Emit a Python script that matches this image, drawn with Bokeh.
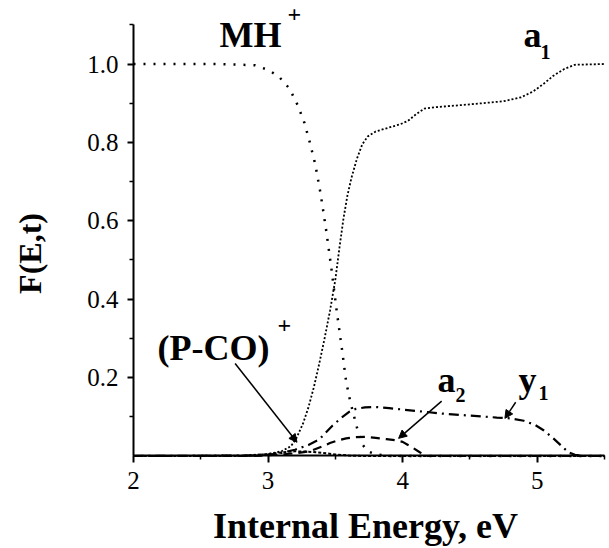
import math
from bokeh.plotting import figure
from bokeh.models import Label, Arrow, NormalHead, FixedTicker, PrintfTickFormatter, Range1d
from bokeh.embed import file_html
from bokeh.resources import INLINE

# ---- data ----
mh_x = [2.0, 2.6, 2.9, 3.0, 3.08, 3.16, 3.22, 3.27, 3.31, 3.35, 3.39, 3.43, 3.47, 3.51,
        3.55, 3.58, 3.61, 3.64, 3.67, 3.70, 3.74, 3.80, 3.90, 5.5]
mh_y = [1.0, 1.0, 0.997, 0.985, 0.968, 0.937, 0.895, 0.85, 0.80, 0.745, 0.67, 0.58, 0.48, 0.37,
        0.27, 0.19, 0.14, 0.10, 0.06, 0.03, 0.012, 0.004, 0.0, 0.0]

a1_x = [2.0, 2.8, 3.0, 3.1, 3.17, 3.21, 3.26, 3.30, 3.34, 3.38, 3.42, 3.46, 3.50, 3.53, 3.56,
        3.59, 3.62, 3.66, 3.70, 3.74, 3.80, 3.90, 3.98, 4.04, 4.10, 4.16, 4.25, 4.5, 4.75,
        4.88, 4.97, 5.05, 5.12, 5.2, 5.28, 5.5]
a1_y = [0.0, 0.001, 0.005, 0.012, 0.025, 0.045, 0.083, 0.124, 0.175, 0.235, 0.30, 0.37, 0.45,
        0.53, 0.605, 0.665, 0.71, 0.758, 0.795, 0.815, 0.828, 0.838, 0.846, 0.855, 0.872,
        0.886, 0.89, 0.897, 0.905, 0.915, 0.93, 0.95, 0.97, 0.987, 0.998, 1.0]

y1_x = [2.0, 2.9, 3.0, 3.1, 3.2, 3.3, 3.38, 3.48, 3.54, 3.60, 3.65, 3.72, 3.80, 3.9, 4.1, 4.3,
        4.5, 4.7, 4.8, 4.9, 4.98, 5.05, 5.12, 5.18, 5.23, 5.28, 5.35, 5.5]
y1_y = [0.0, 0.001, 0.003, 0.008, 0.016, 0.028, 0.042, 0.078, 0.096, 0.112, 0.12, 0.124, 0.125,
        0.122, 0.115, 0.108, 0.103, 0.098, 0.096, 0.09, 0.08, 0.065, 0.045, 0.026, 0.01,
        0.003, 0.0, 0.0]

a2_x = [2.0, 2.9, 3.0, 3.1, 3.2, 3.31, 3.4, 3.46, 3.52, 3.58, 3.65, 3.72, 3.8, 3.88, 3.95,
        4.0, 4.04, 4.08, 4.13, 4.18, 5.5]
a2_y = [0.0, 0.0, 0.002, 0.004, 0.007, 0.012, 0.024, 0.033, 0.04, 0.045, 0.048, 0.049, 0.046,
        0.043, 0.04, 0.036, 0.028, 0.02, 0.009, 0.0, 0.0]

pco_x = [2.0, 2.8, 2.9, 3.0, 3.1, 3.2, 3.3, 3.4, 3.5, 3.6, 3.7, 5.5]
pco_y = [0.0, 0.0, 0.002, 0.005, 0.009, 0.012, 0.011, 0.008, 0.004, 0.001, 0.0, 0.0]

x_major = [2, 3, 4, 5]
x_minor = [2.5, 3.5, 4.5, 5.5]
y_major = [0.2, 0.4, 0.6, 0.8, 1.0]
y_minor = [0.1, 0.3, 0.5, 0.7, 0.9, 1.1]

FONT = "'Liberation Serif', 'Times New Roman', serif"

# frame covers the whole canvas; axes are pinned at x=2 and y=0
p = figure(width=609, height=548, x_range=Range1d(1.0117, 5.5372), y_range=Range1d(-0.236, 1.162),
           output_backend="svg", toolbar_location=None,
           min_border_left=0, min_border_right=0, min_border_top=0, min_border_bottom=0)
p.outline_line_color = None
p.grid.visible = False

# curves
p.line(mh_x, mh_y, line_color="black", line_width=2.5, line_dash="2 8")
p.line(a1_x, a1_y, line_color="black", line_width=1.8, line_dash="2 2")
p.line(y1_x, y1_y, line_color="black", line_width=2.2, line_dash="10 5 2 5")
p.line(a2_x, a2_y, line_color="black", line_width=2.2, line_dash="9 6")
p.line(pco_x, pco_y, line_color="black", line_width=2, line_dash="3 2")

# axes
for ax in (p.xaxis[0], p.yaxis[0]):
    ax.axis_line_width = 2
    ax.axis_line_color = "black"
    ax.major_tick_line_width = 2
    ax.minor_tick_line_width = 1.5
    ax.major_tick_in = 0
    ax.minor_tick_in = 0
    ax.minor_tick_out = 4
    ax.major_label_text_font = FONT
    ax.major_label_text_font_size = "25px"
    ax.major_label_text_color = "black"

p.xaxis.fixed_location = 0
p.yaxis.fixed_location = 2
p.xaxis.bounds = (2, 5.5)
p.yaxis.bounds = (0, 1.1)
p.xaxis.ticker = FixedTicker(ticks=x_major, minor_ticks=x_minor)
p.yaxis.ticker = FixedTicker(ticks=y_major, minor_ticks=y_minor)
p.yaxis.formatter = PrintfTickFormatter(format="%.1f")
p.xaxis.major_tick_out = 7
p.yaxis.major_tick_out = 6
p.xaxis.major_label_standoff = 9
p.yaxis.major_label_standoff = 9

SHIFT = 0.027  # compensates the renderer's baseline placement

# axis titles
p.add_layout(Label(x=3.724, y=-0.2232 + SHIFT + 0.017, text="Internal Energy, eV", text_font=FONT,
                   text_font_size="36px", text_font_style="bold", text_align="center",
                   text_baseline="alphabetic", text_color="black"))
p.add_layout(Label(x=1.2346, y=0.5166, text="F(E,t)", text_font=FONT, angle=math.pi / 2,
                   text_font_size="32px", text_font_style="bold", text_align="center",
                   text_baseline="middle", text_color="black"))

# curve labels: (text, x, baseline y, size)
labels = [
    ("MH", 2.639, 1.046, 36), ("+", 3.144, 1.099, 24),
    ("a", 4.898, 1.046, 36), ("1", 5.024, 1.004, 20),
    ("(P-CO)", 2.178, 0.2486, 36), ("+", 3.070, 0.306, 24),
    ("a", 4.259, 0.167, 36), ("2", 4.393, 0.129, 20),
    ("y", 4.861, 0.167, 36), ("1", 5.010, 0.134, 20),
]
for t, lx, ly, s in labels:
    p.add_layout(Label(x=lx, y=ly + SHIFT, text=t, text_font=FONT, text_font_size=f"{s}px",
                       text_font_style="bold", text_baseline="alphabetic", text_color="black"))

# arrows: (x_start, y_start, x_end, y_end)
arrows = [
    (2.755, 0.236, 3.215, 0.035),
    (4.29, 0.14, 3.97, 0.045),
    (4.84, 0.137, 4.76, 0.096),
]
for xs, ys, xe, ye in arrows:
    p.add_layout(Arrow(end=NormalHead(size=8, fill_color="black", line_color="black"),
                       x_start=xs, y_start=ys, x_end=xe, y_end=ye,
                       line_width=1.5, line_color="black"))

open("out.html", "w").write(file_html(p, INLINE))
